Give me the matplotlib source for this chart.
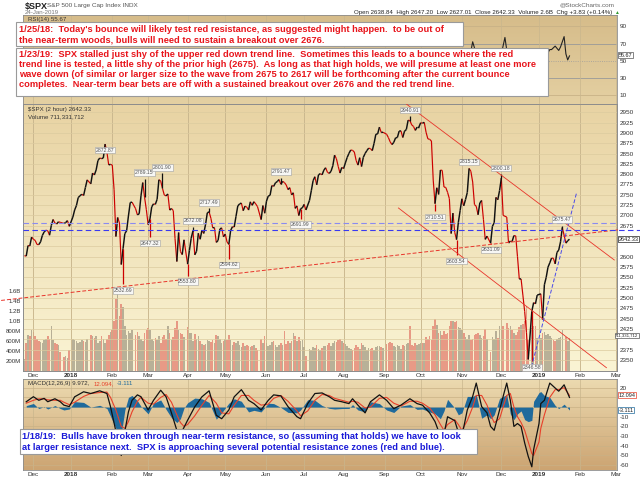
import numpy as np
import pandas as pd
import matplotlib
matplotlib.use("Agg")
import matplotlib.pyplot as plt
from matplotlib.collections import LineCollection
from matplotlib.patches import Rectangle

plt.rcParams['font.family'] = ['Liberation Sans', 'DejaVu Sans']

# ==========================================
# DATA
# ==========================================
START = "2017-11-24"
END = "2019-01-24"
HOLIDAYS = ["2017-12-25", "2018-01-01", "2018-01-15", "2018-02-19", "2018-03-30",
            "2018-05-28", "2018-07-04", "2018-09-03", "2018-11-22", "2018-12-05",
            "2018-12-25", "2019-01-01", "2019-01-21"]

# daily closes, one row per month
closes = [
    2602.4, 2601.4, 2627.0, 2626.1, 2647.6,
    2642.2, 2639.4, 2629.6, 2629.3, 2636.0, 2651.5, 2660.0, 2664.1, 2662.9, 2652.0,
    2675.8, 2690.2, 2681.5, 2679.3, 2684.6, 2683.3, 2680.5, 2682.6, 2687.5, 2673.6,
    2695.8, 2713.1, 2724.0, 2743.2, 2747.7, 2751.3, 2748.2, 2767.6, 2786.2, 2776.4,
    2802.6, 2798.0, 2810.3, 2833.0, 2839.1, 2837.5, 2839.3, 2872.9, 2853.5, 2822.4, 2823.8,
    2822.0, 2762.1, 2648.9, 2695.1, 2681.7, 2581.0, 2619.6, 2656.0, 2662.9, 2698.6,
    2731.2, 2732.2, 2716.3, 2701.3, 2704.0, 2747.3, 2779.6, 2744.3, 2713.8,
    2677.7, 2691.3, 2720.9, 2728.1, 2726.8, 2739.0, 2786.6, 2783.0, 2765.3, 2749.5,
    2747.3, 2752.0, 2712.9, 2716.9, 2711.9, 2643.7, 2588.3, 2658.6, 2612.6, 2605.0, 2640.9,
    2581.9, 2614.5, 2644.7, 2662.8, 2604.5, 2613.2, 2656.9, 2642.2, 2664.0, 2656.3,
    2677.8, 2706.4, 2708.6, 2693.1, 2670.1, 2670.3, 2634.6, 2639.4, 2666.9, 2669.9, 2648.1,
    2654.8, 2635.7, 2629.7, 2663.4, 2672.6, 2671.9, 2697.8, 2723.1, 2727.7, 2730.1,
    2711.5, 2722.5, 2720.1, 2713.0, 2733.0, 2724.4, 2733.3, 2727.8, 2721.3, 2689.9, 2724.0, 2705.3,
    2734.6, 2746.9, 2748.8, 2772.4, 2770.4, 2779.0, 2782.0, 2786.9, 2775.6, 2782.5,
    2779.7, 2773.9, 2762.6, 2767.3, 2749.8, 2754.9, 2717.1, 2723.1, 2699.6, 2716.3, 2718.4,
    2726.7, 2713.2, 2736.6, 2759.8, 2784.2, 2793.8, 2774.0, 2798.3, 2801.3, 2798.4,
    2809.6, 2815.6, 2804.5, 2801.8, 2807.0, 2820.4, 2846.1, 2837.4, 2818.8, 2802.6, 2816.3,
    2813.4, 2827.2, 2840.4, 2850.4, 2858.5, 2857.7, 2853.6, 2833.3, 2821.9, 2840.0,
    2818.4, 2840.7, 2850.1, 2857.1, 2863.0, 2861.8, 2857.0, 2874.7, 2896.7, 2897.5,
    2914.0, 2901.1, 2901.5,
    2896.7, 2888.6, 2878.1, 2871.7, 2877.1, 2887.9, 2888.9, 2904.2, 2905.0, 2888.8,
    2904.3, 2908.0, 2930.8, 2929.7, 2919.4, 2915.6, 2906.0, 2914.0, 2914.0,
    2924.6, 2923.4, 2925.5, 2901.6, 2885.6, 2884.4, 2880.3, 2785.7, 2728.4, 2767.1,
    2750.8, 2809.9, 2809.2, 2768.8, 2767.8, 2755.9, 2740.7, 2656.1, 2705.6, 2658.7,
    2641.3, 2682.6, 2711.7,
    2740.4, 2723.1, 2738.3, 2755.5, 2813.9, 2806.8, 2781.0, 2726.2, 2722.2, 2701.6,
    2730.2, 2736.3, 2690.7, 2641.9, 2649.9, 2632.6, 2673.5, 2682.2, 2743.8, 2737.8, 2760.2,
    2790.4, 2700.1, 2696.0, 2633.1, 2637.7, 2636.8, 2651.1, 2650.5, 2600.0, 2545.9,
    2546.2, 2507.0, 2467.4, 2416.6, 2351.1, 2467.7, 2488.8, 2485.7, 2506.9,
    2510.0, 2447.9, 2531.9, 2549.7, 2574.4, 2585.0, 2596.6, 2596.3, 2582.6, 2610.3,
    2616.1, 2636.0, 2670.7, 2632.9, 2638.7, 2642.3,
]

# 2-hour bar volume, millions
volume = [
    250, 560, 720, 700, 820,
    780, 700, 650, 600, 580, 560, 620, 640, 700, 650, 900, 620, 560, 540, 520, 380, 280, 300, 260, 420,
    640, 620, 600, 560, 580, 620, 600, 580, 640, 720, 700, 660, 700, 560, 600, 700, 640, 560, 640, 720, 780,
    820, 1000, 1450, 1600, 1100, 1350, 1280, 900, 720, 800, 760, 820, 720, 780, 700, 640, 600, 760, 820,
    860, 820, 640, 600, 660, 620, 700, 560, 680, 720, 650, 900, 760, 620, 680, 860, 1000, 820, 760, 740, 680,
    880, 760, 760, 600, 740, 640, 700, 600, 540, 520, 540, 620, 600, 580, 620, 560, 720, 700, 640, 560, 600,
    640, 620, 720, 620, 520, 580, 560, 600, 520, 480, 560, 500, 520, 500, 480, 500, 520, 460, 420, 640, 560, 700,
    560, 500, 520, 580, 600, 520, 480, 520, 560, 520, 800, 540, 600, 560, 600, 760, 700, 600, 680, 600, 620,
    480, 300, 440, 420, 480, 460, 520, 440, 420, 460, 500, 500, 520, 560, 500, 560, 600, 580, 620, 640, 600,
    560, 540, 500, 460, 440, 420, 460, 520, 480, 440, 560, 520, 480, 420, 460, 440, 460, 420, 480, 500, 500, 480, 460,
    540, 560, 580, 560, 500, 480, 520, 500, 440, 520, 500, 540, 560, 900, 520, 500, 560, 520, 540,
    560, 560, 560, 680, 640, 700, 620, 900, 1050, 920, 760, 800, 720, 800, 740, 760, 900, 1000, 1000, 980, 1000, 880, 860,
    820, 760, 680, 640, 720, 620, 640, 720, 740, 760, 720, 660, 700, 840, 640, 380, 680, 640, 800, 660, 900,
    840, 900, 960, 860, 900, 820, 760, 720, 780, 880, 920, 940, 1000, 1300, 620, 860, 900, 900, 660,
    660, 760, 780, 720, 740, 700, 660, 620, 600, 640, 660, 680, 820, 680, 600, 660,
]

# labelled intraday extremes
ext_dates = ["2018-01-26", "2018-02-09", "2018-02-27", "2018-03-02", "2018-03-13", "2018-04-02",
             "2018-04-05", "2018-04-18", "2018-05-03", "2018-06-13", "2018-06-28", "2018-09-21",
             "2018-10-11", "2018-10-29", "2018-11-07", "2018-11-23", "2018-12-03", "2018-12-26",
             "2019-01-18"]
ext_values = [2872.87, 2532.69, 2789.15, 2647.32, 2801.90, 2553.80, 2672.08, 2717.49, 2594.62,
              2791.47, 2691.99, 2940.91, 2710.51, 2603.54, 2815.15, 2631.09, 2800.18, 2346.58,
              2675.47]

# MACD (session number since START)
macd_day = [1, 5, 8, 11, 13, 17, 20, 22, 25, 28, 33, 37, 42, 46, 48, 51, 54, 56, 58, 60,
            63, 65, 69, 72, 76, 79, 82, 85, 87, 89, 91, 95, 99, 103, 107, 110, 114, 117, 121, 125,
            128, 132, 136, 139, 143, 147, 152, 154, 158, 162, 166, 170, 173, 177, 181, 183, 186, 190, 193, 198,
            202, 206, 210, 215, 219, 222, 226, 229, 232, 234, 236, 240, 242, 244, 247, 250, 252, 255, 258, 260,
            262, 265, 267, 269, 271, 273, 275, 277, 279, 281, 283, 284, 287, 288, 290, 293, 296, 298, 301, 304]
macd_line = [5.5, 10.7, 7, 9, 5.5, 8.6, 5.5, 2, 0.5, 10.6, 15.8, 14, 16.8, 14, 0.5, -25, -50, -25, -5, 7,
             12.6, 10.7, -3, 7, 17.4, 10.6, -6, -24, -28, -21, -13.6, 0.3, 10.6, 16.8, -8.5, -12, -3, 10.6, 18, 7,
             3.6, -3, 7, 12.6, 11.6, 0.5, -10, -12, 3.6, 14, 14.6, 10.7, 7, 5.5, 3.6, 8.6, 2, -6, 5.5, 12.6,
             7, -1.6, 2, 8.6, 3.6, 2, -6, -15, -30, -28, -10, -14, -26, -30, -3, 11, 24.8, 0.5, -6, -20,
             -24, -3, 11, 24.8, 7, -20, -17, -20, -37, -51, -61.7, -44, -17, 3.6, 7, 24.8, 19.7, 16.4, 23, 9.97]
macd_signal = [4, 7, 8.5, 8.5, 7.5, 7, 7, 5, 2.5, 5, 11, 14, 15, 15.5, 10, -3, -20, -22, -15, -5,
               6, 10, 4, 3, 10, 13, 5, -8, -16, -20, -18, -9, 2, 12, 4, -6, -7, 2, 12, 12,
               7, 2, 3, 9, 12, 6, -4, -9, -4, 7, 13, 12, 9, 7, 5, 6, 5, -1, 0, 9,
               10, 4, 1, 6, 6, 4, -1, -8, -18, -24, -18, -13, -18, -24, -14, 0, 12, 12, 2, -8,
               -16, -12, 0, 12, 14, 0, -10, -16, -24, -36, -48, -50, -36, -22, -8, 10, 18, 18, 20, 12.09]
macd_hist = [1.5, 3.7, -1.5, 0.5, -2, 1.6, -1.5, -3, -2, 5.6, 4.8, 0, 1.8, -1.5, -9.5, -22, -28, -3, 10, 12,
             6.6, 0.7, -7, 4, 7.4, -2.4, -11, -16, -12, -1, 4.4, 9.3, 8.6, 4.8, -12.5, -6, 4, 8.6, 6, -5,
             -3.4, -5, 4, 3.6, -0.4, -5.5, -6, -3, 7.6, 7, 1.6, -1.3, -2, -1.5, -1.4, 2.6, -3, -5, 5.5, 3.6,
             -3, -5.6, 1, 2.6, -2.4, -2, -5, -7, -12, -4, 8, -1, -8, -6, 11, 11, 12.8, -11.5, -8, -12,
             -8, 9, 11, 12.8, -7, -13, -7, -4, -13, -15, -13.7, 6, 15, 16, 12, 10, 1.7, -1.6, 3, -3.1]

# RSI(14), only the right end shows past the notes
rsi_day = [236, 240, 244, 248, 250, 252, 256, 260, 264, 266, 268, 270, 274, 278, 282, 286, 290,
           293, 294, 296, 298, 299, 301, 302, 303, 304]
rsi_val = [42, 35, 30, 50, 72, 58, 48, 40, 45, 58, 77, 48, 38, 30, 18, 32, 52,
           63, 63, 67, 62, 66, 78, 58, 51, 55.67]

# trend lines drawn on the chart: (session, price) end points
red_rise = ([-13, 331], [2494, 2665])
red_top = ([213, 329], [2970, 2592])
red_low = ([208.6, 324.6], [2718, 2331])
blue_rise = ([282.8, 307.9], [2333, 2754])
blue_levels = [2681, 2664]

month_labels = ["Dec", "2018", "Feb", "Mar", "Apr", "May", "Jun", "Jul", "Aug", "Sep",
                "Oct", "Nov", "Dec", "2019", "Feb", "Mar"]

price_ticks = [2350, 2375, 2425, 2450, 2475, 2500, 2525, 2550, 2575, 2600, 2675, 2700,
               2725, 2750, 2775, 2800, 2825, 2850, 2875, 2900, 2925, 2950]
macd_ticks = [-60, -50, -40, -30, -20, -10, 20]

note1 = ["1/25/18:  Today's bounce will likely test red resistance, as suggested might happen.  to be out of",
         "the near-term woods, bulls will need to sustain a breakout over 2676."]
note2 = ["1/23/19:  SPX stalled just shy of the upper red down trend line.  Sometimes this leads to a bounce where the red",
         "trend line is tested, a little shy of the prior high (2675).  As long as that high holds, we will presume at least one more",
         "wave down (of similar or larger size to the wave from 2675 to 2617 will be forthcoming after the current bounce",
         "completes.  Near-term bear bets are off with a sustained breakout over 2676 and the red trend line."]
note3 = ["1/18/19:  Bulls have broken through near-term resistance, so (assuming that holds) we have to look",
         "at larger resistance next.  SPX is approaching several potential resistance zones (red and blue)."]

# ==========================================
# SESSIONS
# ==========================================
sessions = pd.bdate_range(START, END)
sessions = sessions[~sessions.isin(pd.to_datetime(HOLIDAYS))]
day = np.busday_count(np.datetime64(START), sessions.values.astype("datetime64[D]"))
closes = np.array(closes)
volume = np.array(volume)

months = pd.date_range("2017-12-01", "2019-03-01", freq="MS").values.astype("datetime64[D]")
month_pos = np.busday_count(np.datetime64(START), np.busday_offset(months, 0, roll="forward"))

ext_day = np.busday_count(np.datetime64(START), np.array(ext_dates, dtype="datetime64[D]"))

W, H = 640, 479
XLIM = (-0.8, 330.5)
fig = plt.figure(figsize=(W / 100, H / 100), dpi=100)
renderer = fig.canvas.get_renderer()


def px_axes(x0, y0, x1, y1):
    return fig.add_axes([x0 / W, 1 - y1 / H, (x1 - x0) / W, (y1 - y0) / H])


def gradient(ax, top, bottom):
    g = np.linspace(0, 1, 200)[:, None, None]
    top = np.array(top) / 255.0
    bottom = np.array(bottom) / 255.0
    ax.imshow(top + (bottom - top) * g, extent=[0, 1, 0, 1], transform=ax.transAxes,
              aspect="auto", zorder=0, interpolation="bilinear")


def style(ax):
    for s in ax.spines.values():
        s.set_color("#8c8c8c")
        s.set_linewidth(0.6)
    ax.tick_params(length=0, labelsize=4.6, colors="#333333", pad=2)
    ax.set_xlim(*XLIM)
    ax.set_xticks(month_pos)
    ax.grid(axis="x", color="#c9b68d", lw=0.5, zorder=1)


def month_ticks(ax):
    ax.set_xticklabels(month_labels)
    for lab in ax.get_xticklabels():
        if lab.get_text().isdigit():
            lab.set_fontweight("bold")
    ax.tick_params(axis="x", pad=1.5)


def value_box(ax, y, text, edge, size=4.3):
    ax.text(1.003, y, text, transform=ax.get_yaxis_transform(), ha="left", va="center",
            fontsize=size, color="#222222", zorder=30, clip_on=False,
            bbox=dict(boxstyle="square,pad=0.1", fc="white", ec=edge, lw=0.5))


# ---------- RSI panel ----------
ax_rsi = px_axes(23, 15, 617, 104)
gradient(ax_rsi, (214, 188, 138), (228, 208, 162))
style(ax_rsi)
ax_rsi.set_xticklabels([])
ax_rsi.set_ylim(0, 103)
ax_rsi.yaxis.tick_right()
ax_rsi.set_yticks([10, 30, 50, 70, 90])
for lv, c, ls in [(90, "#c8b286", "-"), (70, "#999999", "-"), (50, "#9c9c9c", ":"),
                  (30, "#999999", "-"), (10, "#c8b286", "-")]:
    ax_rsi.axhline(lv, color=c, lw=0.6, ls=ls, zorder=1)
ax_rsi.plot(rsi_day, rsi_val, color="#222222", lw=0.8, zorder=3)
ax_rsi.text(0.008, 0.975, "RSI(14) 55.67", transform=ax_rsi.transAxes, fontsize=4.4,
            color="#333333", va="top", zorder=4)
value_box(ax_rsi, 56.5, "55.67", "#555555", 4.0)

# ---------- price + volume panel ----------
ax_vol = px_axes(23, 104, 617, 371)
gradient(ax_vol, (232, 211, 163), (250, 244, 212))
style(ax_vol)
ax_vol.set_xticklabels([])
ax_vol.set_ylim(0, 5340)
ax_vol.yaxis.tick_left()
ax_vol.set_yticks([200, 400, 600, 800, 1000, 1200, 1400, 1600])
ax_vol.set_yticklabels(["200M", "400M", "600M", "800M", "1.0B", "1.2B", "1.4B", "1.6B"])
ax_vol.tick_params(axis="y", labelsize=4.3, pad=1.5)
up_day = np.r_[True, np.diff(closes) >= 0]
ax_vol.bar(day, volume, width=0.9, color=np.where(up_day, "#9d9580", "#e17566"),
           alpha=0.7, lw=0, zorder=2)
# last volume value, squeezed against the right edge of the picture
fig.text(638.5 / W, 1 - 335.5 / H, "711,331,712", ha="right", va="center", fontsize=3.1,
         color="#222222", zorder=30,
         bbox=dict(boxstyle="square,pad=0.1", fc="white", ec="#555555", lw=0.5))

ax = px_axes(23, 104, 617, 371)
ax.patch.set_visible(False)
style(ax)
month_ticks(ax)
ax.set_ylim(2323, 2970)
ax.yaxis.tick_right()
ax.set_yticks(np.arange(2350, 2951, 25))
ax.set_yticklabels([str(t) if t in price_ticks else "" for t in np.arange(2350, 2951, 25)])
ax.grid(axis="y", color="#dccb9f", lw=0.5, zorder=1)

pts = np.column_stack([day, closes])
segs = np.stack([pts[:-1], pts[1:]], axis=1)
rising = np.diff(closes) >= 0
ax.add_collection(LineCollection(segs[~rising], colors="#cc0000", lw=0.85, zorder=5))
ax.add_collection(LineCollection(segs[rising], colors="#111111", lw=1.05, zorder=6))

close_at = dict(zip(day, closes))
for d, v in zip(ext_day, ext_values):
    c = close_at[d]
    above = v > c
    ax.vlines(d, c, v, color="#111111" if above else "#cc0000", lw=0.9, zorder=6)
    ax.annotate(f"{v:.2f}", xy=(d, v), xytext=(0, 2.5 if above else -2.5),
                textcoords="offset points", ha="center", va="bottom" if above else "top",
                fontsize=3.7, color="#555555", zorder=8,
                bbox=dict(boxstyle="square,pad=0.15", fc="#f7f7f5", ec="#a0a0a0", lw=0.4))

ax.plot(*red_rise, color="#e8342a", lw=0.7, ls=(0, (4, 2)), zorder=7, clip_on=False)
ax.plot(*red_top, color="#e8342a", lw=0.6, zorder=7)
ax.plot(*red_low, color="#e8342a", lw=0.6, zorder=7)
ax.plot(*blue_rise, color="#4a4ae8", lw=0.7, ls=(0, (4, 2)), zorder=7)
ax.plot([XLIM[0], XLIM[1]], [blue_levels[0]] * 2, color="#8a8af0", lw=0.8, ls=(0, (5, 3)), zorder=7)
ax.plot([XLIM[0], 344], [blue_levels[1]] * 2, color="#3a3af0", lw=0.8, ls=(0, (5, 3)), zorder=7,
        clip_on=False)

ax.text(0.008, 0.99, "$SPX (2 hour) 2642.33", transform=ax.transAxes, fontsize=4.4,
        color="#333333", va="top", zorder=9)
ax.text(0.008, 0.963, "Volume 711,331,712", transform=ax.transAxes, fontsize=4.4,
        color="#333333", va="top", zorder=9)
value_box(ax, 2642.33, "2642.33", "#222222", 4.0)

# ---------- MACD panel ----------
ax_m = px_axes(23, 379, 617, 470)
gradient(ax_m, (236, 218, 176), (204, 164, 114))
style(ax_m)
month_ticks(ax_m)
ax_m.set_ylim(-65, 29)
ax_m.yaxis.tick_right()
ax_m.set_yticks(np.arange(-60, 21, 10))
ax_m.set_yticklabels([str(t) if t in macd_ticks else "" for t in np.arange(-60, 21, 10)])
ax_m.grid(axis="y", color="#c9b186", lw=0.5, zorder=1)
ax_m.fill_between(macd_day, 0, macd_hist, color="#1f6a9c", lw=0, zorder=3)
ax_m.plot(macd_day, macd_signal, color="#e8402a", lw=0.8, zorder=4)
ax_m.plot(macd_day, macd_line, color="#111111", lw=0.9, zorder=5)
ax_m.text(0.008, 0.975, "MACD(12,26,9) 9.972,", transform=ax_m.transAxes, fontsize=4.4,
          color="#333333", va="top", zorder=9)
ax_m.text(0.118, 0.975, "12.094,", transform=ax_m.transAxes, fontsize=4.4,
          color="#e8402a", va="top", zorder=9)
ax_m.text(0.158, 0.975, "-3.111", transform=ax_m.transAxes, fontsize=4.4,
          color="#1f6a9c", va="top", zorder=9)
value_box(ax_m, 12.094, "12.094", "#e8402a", 4.0)
value_box(ax_m, -3.111, "-3.111", "#1f6a9c", 4.0)

# ---------- header ----------
fig.text(25 / W, 1 - 6 / H, "$SPX", fontsize=6.5, fontweight="bold", va="center", color="#222222")
fig.text(47 / W, 1 - 6 / H, "S&P 500 Large Cap Index INDX", fontsize=4.6, va="center", color="#555555")
fig.text(25 / W, 1 - 12.5 / H, "24-Jan-2019", fontsize=4.4, va="center", color="#777777")
fig.text(615 / W, 1 - 5 / H, "@StockCharts.com", fontsize=4.6, va="center", ha="right", color="#666666")
fig.text(612 / W, 1 - 12.5 / H,
         "Open 2638.84  High 2647.20  Low 2627.01  Close 2642.33  Volume 2.6B  Chg +3.83 (+0.14%)",
         fontsize=4.4, va="center", ha="right", color="#222222")
fig.text(616 / W, 1 - 12.5 / H, "\u25b2", fontsize=3.5, va="center", ha="center", color="#2e9a2e")


# ---------- notes ----------
def note(lines, x0, y0, x1, y1, line_y, color, tx, fit_line, fit_end):
    fig.add_artist(Rectangle((x0 / W, 1 - y1 / H), (x1 - x0) / W, (y1 - y0) / H,
                             transform=fig.transFigure, fc="white", ec="#9a9a9a", lw=0.8, zorder=20))
    # size the font so the widest line ends where it does in the original
    probe = fig.text(0, 0, lines[fit_line], fontsize=6.0, fontweight="bold")
    size = 6.0 * (fit_end - tx) / probe.get_window_extent(renderer).width
    probe.remove()
    for txt, y in zip(lines, line_y):
        fig.text(tx / W, 1 - y / H, txt, fontsize=size, fontweight="bold", color=color,
                 va="center", ha="left", zorder=21)


note(note1, 16, 22, 463, 46, [30, 40], "#e8141b", 19, 0, 450)
note(note2, 16, 48, 548, 96, [54.3, 64.3, 74.3, 84.3], "#e8141b", 19, 1, 544)
note(note3, 20, 429, 477, 454, [436.7, 447.3], "#1a1ad8", 22, 0, 466)

fig.savefig("out.png", dpi=100)
